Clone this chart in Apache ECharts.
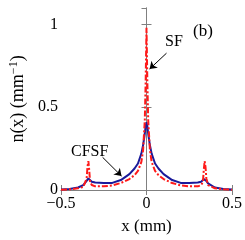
<!DOCTYPE html>
<html><head><meta charset="utf-8">
<script src="https://cdn.jsdelivr.net/npm/echarts@6/dist/echarts.min.js"></script>
<style>html,body{margin:0;padding:0;background:#fff}#c{width:245px;height:240px}</style>
</head><body><div id="c"></div>
<script>
var xs = [-0.5,-0.45,-0.4,-0.37,-0.36,-0.35,-0.345,-0.34,-0.335,-0.33,-0.32,-0.3,-0.25,-0.2,-0.15,-0.1,-0.07,-0.05,-0.03,-0.02,-0.01,-0.005,0,
          0.005,0.01,0.02,0.03,0.05,0.07,0.1,0.15,0.2,0.25,0.3,0.32,0.33,0.335,0.34,0.345,0.35,0.36,0.37,0.4,0.45,0.5];
var cfsf = [0.003,0.006,0.015,0.03,0.04,0.055,0.065,0.07,0.066,0.058,0.05,0.045,0.042,0.043,0.06,0.096,0.13,0.16,0.22,0.27,0.34,0.385,0.41,
            0.385,0.34,0.27,0.22,0.16,0.13,0.096,0.06,0.043,0.042,0.045,0.05,0.058,0.066,0.07,0.065,0.055,0.04,0.03,0.015,0.006,0.003];
var sf = [0.002,0.004,0.01,0.018,0.03,0.07,0.14,0.175,0.12,0.05,0.03,0.022,0.022,0.028,0.042,0.066,0.09,0.115,0.17,0.24,0.42,0.65,0.98,
          0.65,0.42,0.24,0.17,0.115,0.09,0.066,0.042,0.028,0.022,0.022,0.03,0.05,0.12,0.175,0.14,0.07,0.03,0.018,0.01,0.004,0.002];
var xTicks = [-0.5, 0, 0.5];
var yTicks = [0, 0.5, 1];

function pairs(ys){ return xs.map(function(x,i){return [x, ys[i]];}); }
var F = 'Liberation Serif';
var axisCol = '#808080';
var fmt = function(v){ return String(v).replace('-', '\u2212'); };

var chart = echarts.init(document.getElementById('c'), null, {renderer:'canvas'});
chart.setOption({
  animation:false,
  grid:{left:50, right:13, top:8, bottom:49},
  xAxis:[{
    type:'value', min:-0.5, max:0.5, interval:0.5,
    axisLine:{lineStyle:{color:axisCol, width:1}},
    axisTick:{inside:true, length:5, lineStyle:{color:axisCol}},
    axisLabel:{color:'#000', fontFamily:F, fontSize:16, margin:6, formatter:fmt},
    splitLine:{show:false},
    name:'x (mm)', nameLocation:'middle', nameGap:28,
    nameTextStyle:{color:'#000', fontFamily:F, fontSize:17}
  },{
    type:'value', position:'top', min:-0.5, max:0.5, interval:0.5,
    axisLine:{lineStyle:{color:axisCol}},
    axisTick:{inside:true, length:5, lineStyle:{color:axisCol}},
    axisLabel:{show:false}, splitLine:{show:false}
  }],
  yAxis:[{
    type:'value', min:0, max:1.1, interval:0.5,
    axisLine:{show:true, lineStyle:{color:axisCol}},
    axisTick:{show:true, inside:true, length:5, lineStyle:{color:axisCol}},
    axisLabel:{color:'#000', fontFamily:F, fontSize:16, margin:3, showMaxLabel:false},
    splitLine:{show:false},
    name:'{a|n(x) (mm}{s|\u22121}{a|)}', nameLocation:'middle', nameGap:33,
    nameTextStyle:{rich:{a:{fontFamily:F, fontSize:18, color:'#000'}, s:{fontFamily:F, fontSize:12, color:'#000', verticalAlign:'top', padding:[0,0,8,0]}}}
  },{
    type:'value', position:'right', min:0, max:1.1, interval:0.5,
    axisLine:{show:true, lineStyle:{color:axisCol}},
    axisTick:{show:true, inside:true, length:5, lineStyle:{color:axisCol}},
    axisLabel:{show:false}, splitLine:{show:false}
  }],
  series:[{
    name:'CFSF', type:'line', data:pairs(cfsf), showSymbol:false, smooth:false,
    lineStyle:{color:'#1a1a9a', width:2}, z:2,
    markLine:{silent:true, symbol:['none','arrow'], symbolSize:7,
      lineStyle:{color:'#000', type:'solid', width:1}, label:{show:false},
      data:[[{coord:[-0.257,0.198]},{coord:[-0.146,0.084]}]]}
  },{
    name:'SF', type:'line', data:pairs(sf), showSymbol:false, smooth:false,
    lineStyle:{color:'#ff1a1a', width:2, type:[6,2,2,2]}, z:3,
    markLine:{silent:true, symbol:['none','arrow'], symbolSize:7,
      lineStyle:{color:'#000', type:'solid', width:1}, label:{show:false},
      data:[[{coord:[0.117,0.827]},{coord:[0.018,0.731]}]]}
  }],
  graphic:[
    {type:'text', left:165, top:34, style:{text:'SF', font:'16px "Liberation Serif"', fill:'#000'}},
    {type:'text', left:193, top:23, style:{text:'(b)', font:'17px "Liberation Serif"', fill:'#000'}},
    {type:'text', left:71, top:144, style:{text:'CFSF', font:'16px "Liberation Serif"', fill:'#000'}}
  ]
});
</script></body></html>
